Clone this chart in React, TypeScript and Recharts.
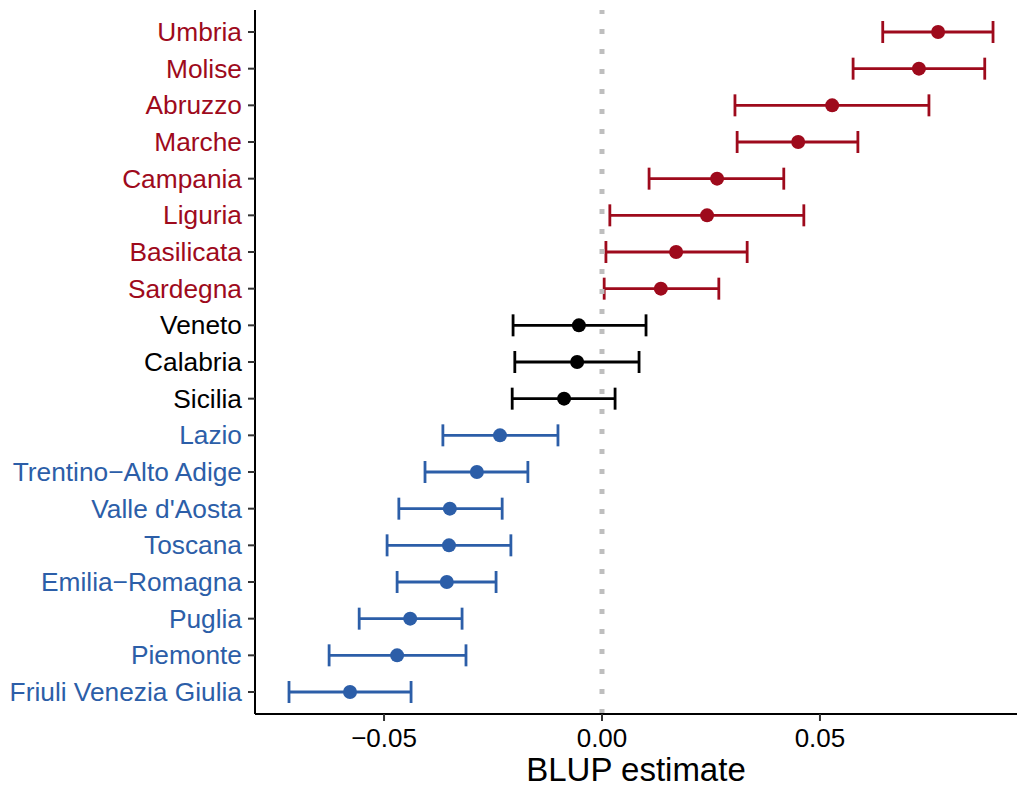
import {
  ErrorBar,
  ReferenceLine,
  Scatter,
  ScatterChart,
  XAxis,
  YAxis,
} from "recharts";

// regions listed top to bottom
const regions = [
  "Umbria", "Molise", "Abruzzo", "Marche", "Campania", "Liguria", "Basilicata", "Sardegna",
  "Veneto", "Calabria", "Sicilia",
  "Lazio", "Trentino\u2212Alto Adige", "Valle d'Aosta", "Toscana", "Emilia\u2212Romagna",
  "Puglia", "Piemonte", "Friuli Venezia Giulia",
];

const estimates = [
  0.0771, 0.0727, 0.0528, 0.045, 0.0264, 0.0241, 0.017, 0.0135,
  -0.0053, -0.0057, -0.0087,
  -0.0234, -0.0287, -0.0349, -0.0351, -0.0356, -0.044, -0.047, -0.0578,
];

const lower = [
  0.0644, 0.0576, 0.0305, 0.031, 0.0108, 0.0018, 0.0009, 0.0005,
  -0.0204, -0.02, -0.0206,
  -0.0365, -0.0406, -0.0466, -0.0493, -0.047, -0.0557, -0.0626, -0.0718,
];

const upper = [
  0.0897, 0.0878, 0.075, 0.0587, 0.0417, 0.0463, 0.0333, 0.0268,
  0.0101, 0.0085, 0.003,
  -0.0101, -0.017, -0.0229, -0.0209, -0.0243, -0.0321, -0.0312, -0.0438,
];

// "high" = above zero, "mid" = crosses zero, "low" = below zero
const groups = [
  "high", "high", "high", "high", "high", "high", "high", "high",
  "mid", "mid", "mid",
  "low", "low", "low", "low", "low", "low", "low", "low",
];

const xTicks = [-0.05, 0, 0.05];

const colors: Record<string, string> = {
  high: "#9E0A1C",
  mid: "#000000",
  low: "#2C5EA8",
};

const rows = regions.map((name, i) => ({
  name,
  x: estimates[i],
  y: i,
  err: [estimates[i] - lower[i], upper[i] - estimates[i]],
  group: groups[i],
}));

const FONT = "'Liberation Sans', Arial, Helvetica, sans-serif";

function RegionTick(props: any) {
  const { x, y, payload } = props;
  const i = Number(payload.value);
  return (
    <text
      x={x}
      y={y}
      dy={9}
      textAnchor="end"
      fontSize={26.3}
      fontFamily={FONT}
      fill={colors[groups[i]] ?? "#000"}
    >
      {regions[i]}
    </text>
  );
}

function formatTick(v: number) {
  return v.toFixed(2).replace("-", "\u2212");
}

export default function App() {
  return (
    <div style={{ width: 1017, height: 788, fontFamily: FONT }}>
      <style>{`body{margin:0}`}</style>
      <ScatterChart
        width={1017}
        height={788}
        margin={{ top: 10, right: 0, bottom: 0, left: 0 }}
      >
        <XAxis
          type="number"
          dataKey="x"
          domain={[-0.0796, 0.0952]}
          ticks={xTicks}
          tickFormatter={formatTick}
          allowDataOverflow
          height={74}
          tickSize={7}
          tickMargin={8}
          axisLine={{ stroke: "#000", strokeWidth: 2 }}
          tickLine={{ stroke: "#333", strokeWidth: 2 }}
          tick={{ fontSize: 26, fill: "#000", fontFamily: FONT }}
          label={{
            value: "BLUP estimate",
            position: "insideBottom",
            offset: 7,
            fontSize: 33,
            fill: "#000",
            fontFamily: FONT,
          }}
        />
        <YAxis
          type="number"
          dataKey="y"
          domain={[-0.6, 18.6]}
          ticks={regions.map((_, i) => i)}
          interval={0}
          reversed
          width={255}
          tickSize={7}
          tickMargin={6}
          axisLine={{ stroke: "#000", strokeWidth: 2 }}
          tickLine={{ stroke: "#333", strokeWidth: 2 }}
          tick={<RegionTick />}
        />
        {["high", "mid", "low"].map((g) => (
          <Scatter
            key={g}
            data={rows.filter((r) => r.group === g)}
            isAnimationActive={false}
            shape={(p: any) => (
              <circle cx={p.cx} cy={p.cy} r={7} fill={colors[g]} />
            )}
          >
            <ErrorBar
              dataKey="err"
              direction="x"
              width={11}
              stroke={colors[g]}
              strokeWidth={2.8}
              isAnimationActive={false}
            />
          </Scatter>
        ))}
        <ReferenceLine
          x={0}
          stroke="#BEBEBE"
          strokeWidth={5}
          strokeDasharray="5 15"
        />
      </ScatterChart>
    </div>
  );
}
